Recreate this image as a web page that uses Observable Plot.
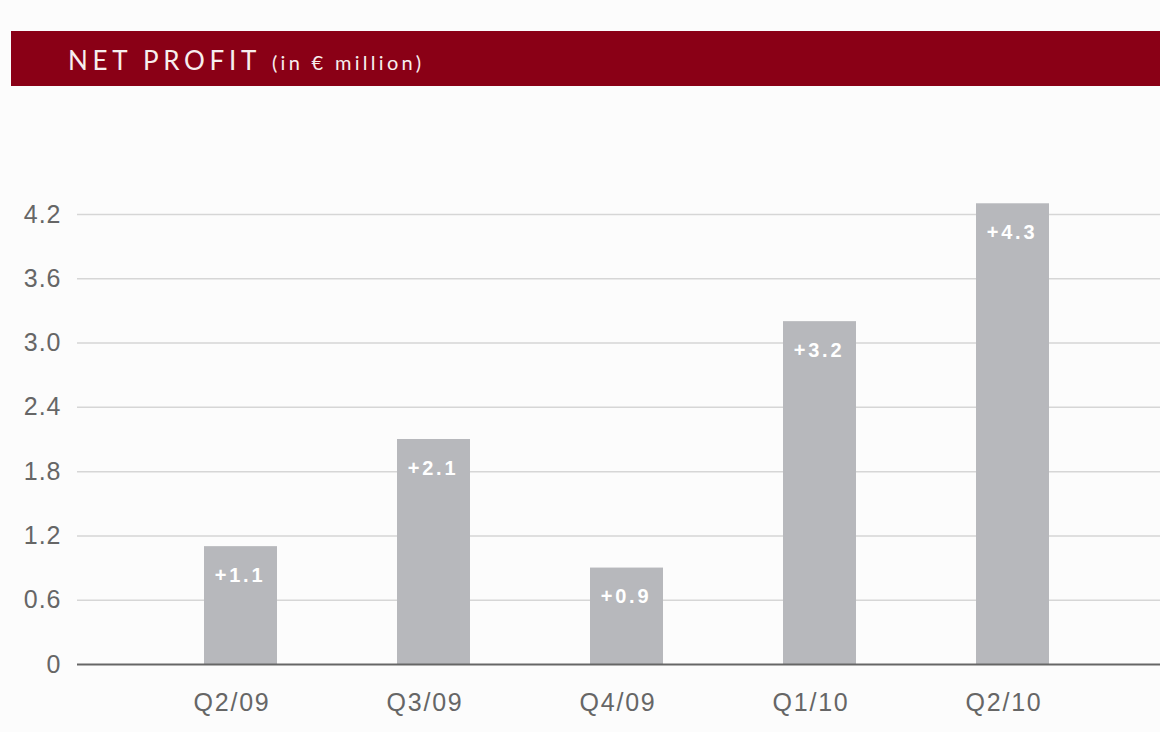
<!DOCTYPE html>
<html>
<head>
<meta charset="utf-8">
<script src="https://cdn.jsdelivr.net/npm/d3@7"></script>
<script src="https://cdn.jsdelivr.net/npm/@observablehq/plot@0.6"></script>
<style>
  html, body { margin: 0; padding: 0; background: #fcfcfc; width: 1160px; height: 732px; overflow: hidden; }
  #title {
    position: absolute; left: 11px; top: 31px; width: 1149px; height: 55px;
    background: #8a0016; color: #f7eeee;
    font-family: Lato, "Open Sans", sans-serif;
    box-sizing: border-box; padding-left: 57px; line-height: 58px; white-space: nowrap;
  }
  #title .main { font-size: 26px; letter-spacing: 4.7px; }
  #title .sub { font-size: 20px; letter-spacing: 3.3px; margin-left: 11px; }
  #chart { position: absolute; left: 0; top: 86px; }
  #chart svg { background: transparent; }
  .yax text { letter-spacing: 1px; }
  .xax text { letter-spacing: 1.8px; }
  .blab text { letter-spacing: 2.8px; }
</style>
</head>
<body>
<div id="title"><span class="main">NET PROFIT</span><span class="sub">(in € million)</span></div>
<div id="chart"></div>
<script>
const quarters = ["Q2/09", "Q3/09", "Q4/09", "Q1/10", "Q2/10"];
const profits = [1.1, 2.1, 0.9, 3.2, 4.3];
const barLabels = ["+1.1", "+2.1", "+0.9", "+3.2", "+4.3"];
const yTicks = [0, 0.6, 1.2, 1.8, 2.4, 3.0, 3.6, 4.2];
const yTickLabels = ["0", "0.6", "1.2", "1.8", "2.4", "3.0", "3.6", "4.2"];

const data = quarters.map((q, i) => ({quarter: q, value: profits[i], label: barLabels[i]}));

const chart = Plot.plot({
  width: 1160,
  height: 646,
  marginTop: 128,
  marginBottom: 68,
  marginLeft: 77,
  marginRight: 0,
  style: {fontFamily: "'Liberation Sans', Arial, Helvetica, sans-serif", background: "transparent"},
  x: {domain: quarters, range: [142, 1110.5], paddingInner: 0.624, paddingOuter: 0.312, label: null},
  y: {domain: [0, 4.2], label: null},
  marks: [
    Plot.gridY(yTicks.filter(t => t > 0), {stroke: "#d6d6d6", strokeOpacity: 1, strokeWidth: 1.5}),
    Plot.axisY(yTicks, {
      tickSize: 0, tickPadding: 16, fontSize: 25, fill: "#666666", className: "yax",
      tickFormat: (d) => yTickLabels[yTicks.indexOf(d)], label: null
    }),
    Plot.axisX({tickSize: 0, tickPadding: 29, dx: -9, fontSize: 25, fill: "#666666", className: "xax", label: null}),
    Plot.barY(data, {x: "quarter", y: "value", fill: "#b7b8bc"}),
    Plot.ruleY([0], {stroke: "#666666", strokeWidth: 2}),
    Plot.text(data, {
      x: "quarter", y: "value", text: "label", dy: 29, dx: -1, fill: "#ffffff", className: "blab",
      fontSize: 20, fontWeight: "bold"
    })
  ]
});
document.getElementById("chart").appendChild(chart);
</script>
</body>
</html>
